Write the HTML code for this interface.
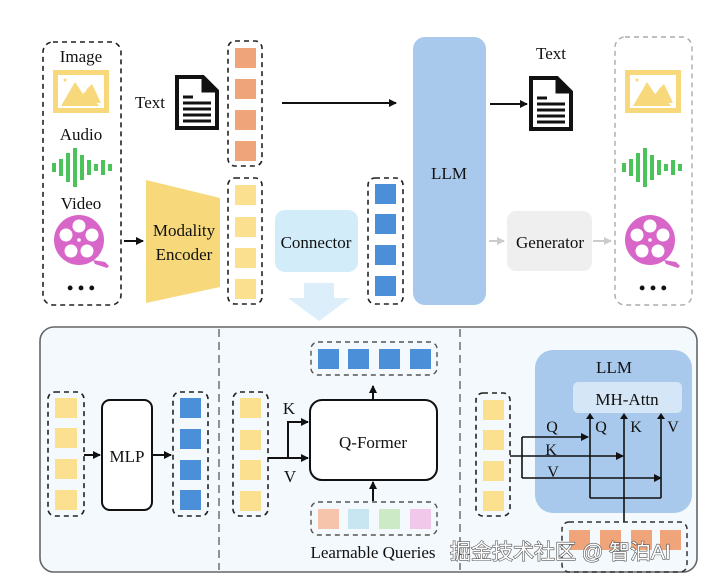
<!DOCTYPE html>
<html><head><meta charset="utf-8"><style>
html,body{margin:0;padding:0;background:#fff;width:728px;height:585px;overflow:hidden}
svg text{font-family:"Liberation Serif",serif;fill:#111}
</style></head><body>
<svg width="728" height="585" viewBox="0 0 728 585" xmlns="http://www.w3.org/2000/svg">
<defs>
<marker id="ah" markerWidth="8" markerHeight="8" refX="7" refY="4" orient="auto" markerUnits="userSpaceOnUse"><path d="M0,0 L8,4 L0,8 z" fill="#111"/></marker>
<marker id="ahg" markerWidth="8" markerHeight="8" refX="7" refY="4" orient="auto" markerUnits="userSpaceOnUse"><path d="M0,0 L8,4 L0,8 z" fill="#ccc"/></marker>
<g id="img">
<rect x="2.5" y="2.5" width="51" height="38" fill="none" stroke="#f7d87a" stroke-width="5"/>
<path d="M8,36 L22,12 L30,24 L34,20 L46,36 z" fill="#f7d87a"/>
<path d="M33,20 L39,14 L48,33 L44,33 z" fill="#f7d87a"/>
<circle cx="12" cy="10" r="1.5" fill="#f7d87a"/>
</g>
<g id="wave" fill="#4cc35a">
<rect x="0" y="15" width="4" height="9"/><rect x="7" y="11" width="4" height="17"/><rect x="14" y="5" width="4" height="29"/><rect x="21" y="0" width="4" height="39"/><rect x="28" y="7" width="4" height="25"/><rect x="35" y="12" width="4" height="15"/><rect x="42" y="16" width="4" height="7"/><rect x="49" y="12" width="4" height="15"/><rect x="56" y="16" width="4" height="7"/>
</g>
<g id="reel">
<path d="M14,20 L26,22 L30,26 L28,28 L16,24 z" fill="#d866c9"/>
<circle cx="0" cy="0" r="25" fill="#d866c9"/>
<circle cx="0" cy="-14" r="6.5" fill="#fff"/><circle cx="-13" cy="-5" r="6.5" fill="#fff"/><circle cx="13" cy="-5" r="6.5" fill="#fff"/><circle cx="-8" cy="11" r="6.5" fill="#fff"/><circle cx="8" cy="11" r="6.5" fill="#fff"/>
<circle cx="0" cy="0" r="1.8" fill="#fff"/>
</g>
<g id="doc">
<path d="M2,2 L28,2 L42,16 L42,53 L2,53 z" fill="#fff" stroke="#111" stroke-width="4" stroke-linejoin="miter"/>
<path d="M28,2 L28,16 L42,16" fill="#111" stroke="#111" stroke-width="3"/>
<g stroke="#111" stroke-width="3"><line x1="8" y1="22" x2="18" y2="22"/><line x1="8" y1="28" x2="36" y2="28"/><line x1="8" y1="34" x2="36" y2="34"/><line x1="8" y1="40" x2="36" y2="40"/><line x1="8" y1="46" x2="36" y2="46"/></g>
</g>
</defs>

<!-- left input box -->
<rect x="43" y="42" width="78" height="263" rx="10" fill="none" stroke="#222" stroke-width="1.6" stroke-dasharray="5,4"/>
<text x="81" y="62" font-size="17" text-anchor="middle">Image</text>
<use href="#img" x="53" y="70"/>
<text x="81" y="140" font-size="17" text-anchor="middle">Audio</text>
<use href="#wave" x="52" y="148"/>
<text x="81" y="209" font-size="17" text-anchor="middle">Video</text>
<use href="#reel" x="79" y="240"/>
<text x="81" y="294" font-size="18" text-anchor="middle" font-weight="bold">• • •</text>

<text x="150" y="108" font-size="17" text-anchor="middle">Text</text>
<use href="#doc" x="175" y="75"/>

<!-- orange tokens -->
<rect x="228" y="41" width="34" height="125" rx="7" fill="none" stroke="#222" stroke-width="1.6" stroke-dasharray="5,4"/>
<g fill="#f0a47a"><rect x="235" y="48" width="21" height="20"/><rect x="235" y="79" width="21" height="20"/><rect x="235" y="110" width="21" height="20"/><rect x="235" y="141" width="21" height="20"/></g>
<line x1="282" y1="103" x2="396" y2="103" stroke="#111" stroke-width="2" marker-end="url(#ah)"/>

<!-- encoder -->
<line x1="124" y1="241" x2="143" y2="241" stroke="#111" stroke-width="2" marker-end="url(#ah)"/>
<path d="M146,180 L220,198 L220,287 L146,303 z" fill="#f7d87a"/>
<text x="184" y="236" font-size="17" text-anchor="middle">Modality</text>
<text x="184" y="260" font-size="17" text-anchor="middle">Encoder</text>

<rect x="228" y="178" width="34" height="126" rx="7" fill="none" stroke="#222" stroke-width="1.6" stroke-dasharray="5,4"/>
<g fill="#fae08f"><rect x="235" y="185" width="21" height="20"/><rect x="235" y="217" width="21" height="20"/><rect x="235" y="248" width="21" height="20"/><rect x="235" y="279" width="21" height="20"/></g>

<rect x="275" y="210" width="83" height="62" rx="10" fill="#d3ecfa"/>
<text x="316" y="248" font-size="17" text-anchor="middle">Connector</text>
<path d="M304,283 L334,283 L334,298 L350,298 L319,321 L288,298 L304,298 z" fill="#dbeefa"/>

<rect x="368" y="178" width="35" height="126" rx="7" fill="none" stroke="#222" stroke-width="1.6" stroke-dasharray="5,4"/>
<g fill="#4a8fd8"><rect x="375" y="184" width="21" height="20"/><rect x="375" y="214" width="21" height="20"/><rect x="375" y="245" width="21" height="20"/><rect x="375" y="276" width="21" height="20"/></g>

<rect x="413" y="37" width="73" height="268" rx="12" fill="#a8c9ec"/>
<text x="449" y="179" font-size="17" text-anchor="middle">LLM</text>

<line x1="490" y1="104" x2="527" y2="104" stroke="#111" stroke-width="2" marker-end="url(#ah)"/>
<text x="551" y="59" font-size="17" text-anchor="middle">Text</text>
<use href="#doc" x="529" y="76"/>

<line x1="489" y1="241" x2="504" y2="241" stroke="#ccc" stroke-width="2" marker-end="url(#ahg)"/>
<rect x="507" y="211" width="85" height="60" rx="9" fill="#efefef"/>
<text x="550" y="248" font-size="17" text-anchor="middle">Generator</text>
<line x1="593" y1="241" x2="611" y2="241" stroke="#ccc" stroke-width="2" marker-end="url(#ahg)"/>

<rect x="615" y="37" width="77" height="268" rx="10" fill="none" stroke="#aaa" stroke-width="1.4" stroke-dasharray="5,4"/>
<use href="#img" x="625" y="70"/>
<use href="#wave" x="622" y="148"/>
<use href="#reel" x="650" y="240"/>
<text x="653" y="294" font-size="18" text-anchor="middle" font-weight="bold">• • •</text>

<!-- bottom panel -->
<rect x="40" y="327" width="657" height="245" rx="14" fill="#f3f9fc" stroke="#666" stroke-width="1.6"/>
<line x1="219" y1="329" x2="219" y2="570" stroke="#777" stroke-width="1.6" stroke-dasharray="8,5"/>
<line x1="460" y1="329" x2="460" y2="570" stroke="#777" stroke-width="1.6" stroke-dasharray="8,5"/>

<!-- MLP -->
<rect x="48" y="392" width="36" height="124" rx="7" fill="none" stroke="#222" stroke-width="1.6" stroke-dasharray="5,4"/>
<g fill="#fae08f"><rect x="55" y="398" width="22" height="20"/><rect x="55" y="428" width="22" height="20"/><rect x="55" y="459" width="22" height="20"/><rect x="55" y="490" width="22" height="20"/></g>
<line x1="84" y1="455" x2="100" y2="455" stroke="#111" stroke-width="2" marker-end="url(#ah)"/>
<rect x="102" y="400" width="50" height="110" rx="8" fill="#fff" stroke="#111" stroke-width="2"/>
<text x="127" y="462" font-size="17" text-anchor="middle">MLP</text>
<line x1="152" y1="455" x2="171" y2="455" stroke="#111" stroke-width="2" marker-end="url(#ah)"/>
<rect x="173" y="392" width="35" height="124" rx="7" fill="none" stroke="#222" stroke-width="1.6" stroke-dasharray="5,4"/>
<g fill="#4a8fd8"><rect x="180" y="398" width="21" height="20"/><rect x="180" y="429" width="21" height="20"/><rect x="180" y="460" width="21" height="20"/><rect x="180" y="490" width="21" height="20"/></g>

<!-- Q-Former -->
<rect x="233" y="392" width="35" height="124" rx="7" fill="none" stroke="#222" stroke-width="1.6" stroke-dasharray="5,4"/>
<g fill="#fae08f"><rect x="240" y="398" width="21" height="20"/><rect x="240" y="430" width="21" height="20"/><rect x="240" y="460" width="21" height="20"/><rect x="240" y="491" width="21" height="20"/></g>
<line x1="268" y1="458" x2="308" y2="458" stroke="#111" stroke-width="2" marker-end="url(#ah)"/>
<polyline points="288,458 288,422 308,422" fill="none" stroke="#111" stroke-width="2" marker-end="url(#ah)"/>
<text x="289" y="414" font-size="17" text-anchor="middle">K</text>
<text x="290" y="482" font-size="17" text-anchor="middle">V</text>
<rect x="310" y="400" width="127" height="80" rx="12" fill="#fff" stroke="#111" stroke-width="2"/>
<text x="373" y="448" font-size="17" text-anchor="middle">Q-Former</text>
<line x1="373" y1="400" x2="373" y2="386" stroke="#111" stroke-width="2" marker-end="url(#ah)"/>
<rect x="311" y="342" width="126" height="33" rx="7" fill="none" stroke="#555" stroke-width="1.4" stroke-dasharray="5,4"/>
<g fill="#4a8fd8"><rect x="318" y="349" width="21" height="20"/><rect x="348" y="349" width="21" height="20"/><rect x="379" y="349" width="21" height="20"/><rect x="410" y="349" width="21" height="20"/></g>
<line x1="373" y1="501" x2="373" y2="482" stroke="#111" stroke-width="2" marker-end="url(#ah)"/>
<rect x="311" y="502" width="126" height="33" rx="7" fill="none" stroke="#555" stroke-width="1.4" stroke-dasharray="5,4"/>
<rect x="318" y="509" width="21" height="20" fill="#f5c4aa"/><rect x="348" y="509" width="21" height="20" fill="#c8e6f2"/><rect x="379" y="509" width="21" height="20" fill="#cdeac6"/><rect x="410" y="509" width="21" height="20" fill="#f1c8ea"/>
<text x="373" y="558" font-size="17" text-anchor="middle">Learnable Queries</text>

<!-- right: LLM -->
<rect x="535" y="350" width="157" height="163" rx="18" fill="#a8c9ec"/>
<text x="614" y="373" font-size="17" text-anchor="middle">LLM</text>
<rect x="573" y="382" width="109" height="31" rx="5" fill="#d5e6f6"/>
<text x="627" y="405" font-size="17" text-anchor="middle">MH-Attn</text>
<rect x="476" y="393" width="34" height="123" rx="7" fill="none" stroke="#222" stroke-width="1.6" stroke-dasharray="5,4"/>
<g fill="#fae08f"><rect x="483" y="400" width="21" height="20"/><rect x="483" y="430" width="21" height="20"/><rect x="483" y="461" width="21" height="20"/><rect x="483" y="491" width="21" height="20"/></g>
<g stroke="#111" stroke-width="1.6" fill="none">
<line x1="510" y1="456" x2="623" y2="456" marker-end="url(#ah)"/>
<line x1="522" y1="437" x2="522" y2="478"/>
<line x1="522" y1="437" x2="588" y2="437" marker-end="url(#ah)"/>
<line x1="522" y1="478" x2="661" y2="478" marker-end="url(#ah)"/>
<polyline points="590,498 590,418"/>
<polyline points="661,498 661,418"/>
<line x1="590" y1="498" x2="661" y2="498"/>
<line x1="624" y1="522" x2="624" y2="418"/>
</g>
<g fill="#111"><path d="M586,419 L590,413 L594,419 z"/><path d="M620,419 L624,413 L628,419 z"/><path d="M657,419 L661,413 L665,419 z"/></g>
<text x="552" y="432" font-size="16" text-anchor="middle">Q</text>
<text x="551" y="455" font-size="16" text-anchor="middle">K</text>
<text x="553" y="477" font-size="16" text-anchor="middle">V</text>
<text x="601" y="432" font-size="16" text-anchor="middle">Q</text>
<text x="636" y="432" font-size="16" text-anchor="middle">K</text>
<text x="673" y="432" font-size="16" text-anchor="middle">V</text>
<rect x="562" y="522" width="125" height="50" rx="7" fill="none" stroke="#333" stroke-width="1.5" stroke-dasharray="5,4"/>
<g fill="#f0a47a"><rect x="569" y="530" width="21" height="20"/><rect x="600" y="530" width="21" height="20"/><rect x="631" y="530" width="21" height="20"/><rect x="660" y="530" width="21" height="20"/></g>

<text x="450" y="559" font-size="21" style="font-family:'Liberation Sans','Noto Sans CJK SC',sans-serif;fill:#fff;stroke:#555;stroke-width:1.2;paint-order:stroke">掘金技术社区 @ 智泊AI</text>
</svg>
</body></html>
